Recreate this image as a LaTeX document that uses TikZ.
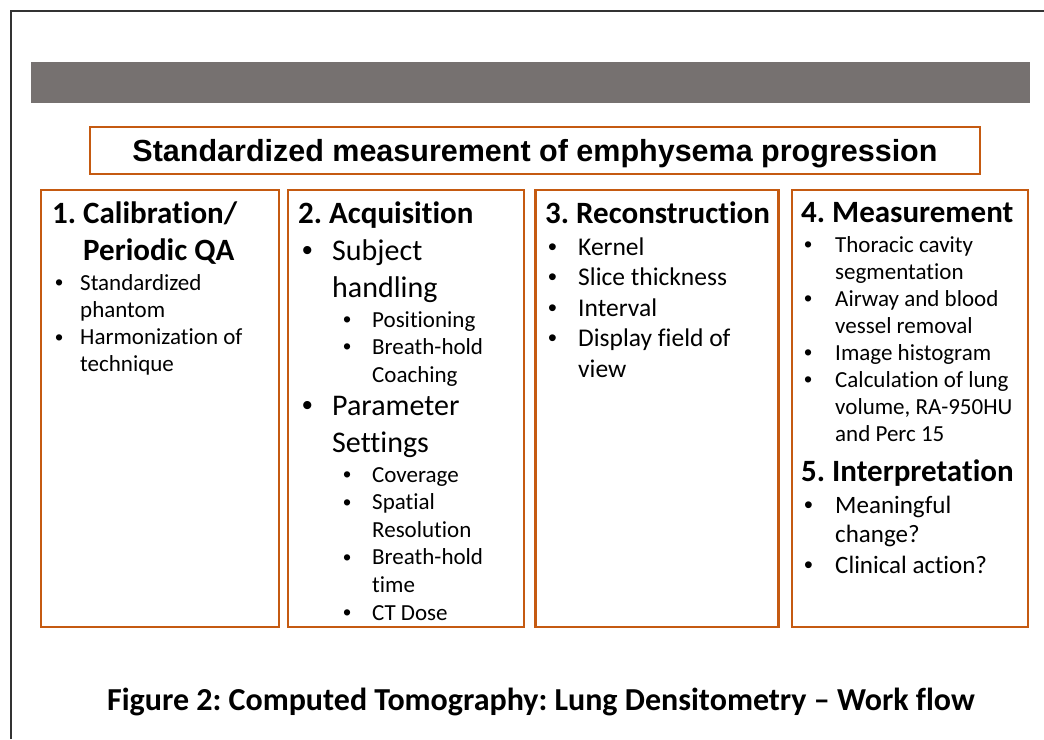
\documentclass[tikz,border=0pt]{standalone}
\usepackage{fontspec}
\setmainfont{Carlito}[Ligatures=NoCommon]
\newfontfamily\arialfont{Liberation Sans}
\usetikzlibrary{positioning}
\definecolor{panelorange}{HTML}{C55A11}
\definecolor{bargray}{HTML}{767170}
\frenchspacing

\begin{document}
\begin{tikzpicture}[x=1pt, y=-1pt,
panel/.style = {draw=panelorange, line width=2.8pt, inner sep=0pt},
item/.style = {anchor=base west, inner sep=0pt,
	font=\fontsize{#1}{#1}\selectfont},
dot/.style = {anchor=base west, inner sep=0pt,
	font=\arialfont\fontsize{#1}{#1}\selectfont},
head/.style = {anchor=base west, inner sep=0pt,
	font=\fontsize{31}{31}\selectfont\bfseries}
]
\useasboundingbox (0,0) rectangle (1044,739);
% Frame and grey bar
\draw[black!80, line width=1.3pt] (11,739) -- (11,11) -- (1044,11);
\node[fill=bargray, minimum width=999pt, minimum height=41pt, inner sep=0pt] (bar) at (530.5,82.5) {};
% Title box
\node[panel, minimum width=890pt, minimum height=47pt] (title) at (535,150.5) {};
\node[anchor=base, inner sep=0pt, font=\arialfont\fontsize{30.5}{30.5}\selectfont\bfseries] (title-text) at (535,161)
	{Standardized measurement of emphysema progression};
% Draw the four step panels
\node[panel, minimum width=238pt, minimum height=437pt] (P-1) at (160,408.5) {};
\node[panel, minimum width=236pt, minimum height=437pt] (P-2) at (406,408.5) {};
\node[panel, minimum width=243pt, minimum height=437pt] (P-3) at (657,408.5) {};
\node[panel, minimum width=236pt, minimum height=437pt] (P-4) at (910,408.5) {};

% 1. Calibration
\node[head] (H-1) at (52,223) {1. Calibration/};
\node[head] (H-1b) at (83,260) {Periodic QA};
\foreach \y [count=\k] in {290,345}
\node[dot=23] (cal-b\k) at (55,\y) {•};
\foreach \t [count=\k from 0] in {Standardized, phantom, Harmonization of, technique}
\node[item=23] (cal-\k) at (80,{290+27.33*\k}) {\t};

% 2. Acquisition
\node[head] (H-2) at (298,223) {2. Acquisition};
\foreach \y [count=\k] in {260,415}
\node[dot=30] (acq-b\k) at (302,\y) {•};
\foreach \t/\y [count=\k] in {Subject/260, handling/297, Parameter/415, Settings/452}
\node[item=30] (acq-\k) at (332,\y) {\t};
\foreach \y [count=\k] in {327,354,482,510,565,620}
\node[dot=23] (sub-b\k) at (343,\y) {•};
\foreach \t [count=\k from 0] in {Positioning, Breath-hold, Coaching}
\node[item=23] (sub-\k) at (372,{327+27.5*\k}) {\t};
\foreach \t [count=\k from 0] in {Coverage, Spatial, Resolution, Breath-hold, time, CT Dose}
\node[item=23] (par-\k) at (372,{482+27.6*\k}) {\t};

% 3. Reconstruction
\node[head] (H-3) at (545,223) {3. Reconstruction};
\foreach \k in {0,...,3}
\node[dot=25] (rec-b\k) at (548,{255+30.5*\k}) {•};
\foreach \t [count=\k from 0] in {Kernel, Slice thickness, Interval, Display field of, view}
\node[item=25.5] (rec-\k) at (578,{255+30.5*\k}) {\t};

% 4. Measurement and 5. Interpretation
\node[head] (H-4) at (801,222) {4. Measurement};
\foreach \k in {0,2,4,5}
\node[dot=23] (mea-b\k) at (804,{252+27.14*\k}) {•};
\foreach \t [count=\k from 0] in {Thoracic cavity, segmentation, Airway and blood,
	vessel removal, Image histogram, Calculation of lung, {volume, RA-950HU}, and Perc 15}
\node[item=23] (mea-\k) at (835,{252+27.14*\k}) {\t};
\node[head] (H-5) at (801,481) {5. Interpretation};
\foreach \y [count=\k] in {513,573}
\node[dot=25] (int-b\k) at (804,\y) {•};
\foreach \t/\y [count=\k] in {Meaningful/513, change?/542, Clinical action?/573}
\node[item=25] (int-\k) at (835,\y) {\t};

% Caption
\node[anchor=base, inner sep=0pt, font=\fontsize{32}{32}\selectfont\bfseries] (caption) at (541,710)
	{Figure 2: Computed Tomography: Lung Densitometry – Work flow};
\end{tikzpicture}
\end{document}
